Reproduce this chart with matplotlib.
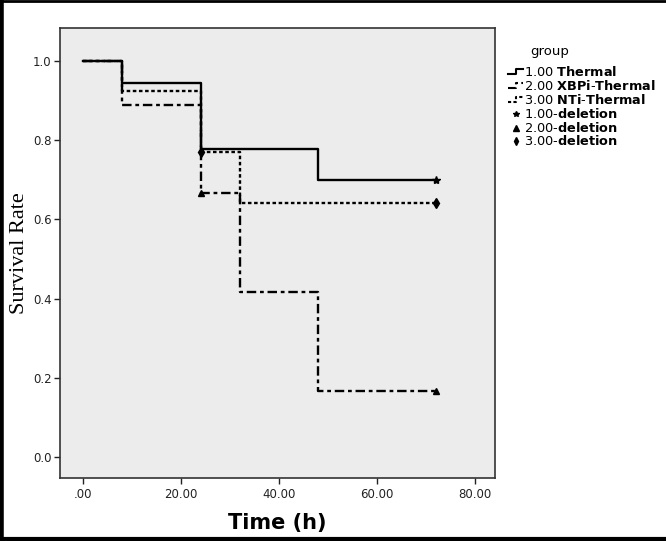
import matplotlib
matplotlib.use("Agg")
import matplotlib.pyplot as plt
from matplotlib.lines import Line2D

# ---- data ----
thermal_t = [0, 8, 24, 48, 72]
thermal_s = [1.0, 0.944, 0.778, 0.70, 0.70]
xbpi_t = [0, 8, 24, 32, 48, 72]
xbpi_s = [1.0, 0.889, 0.667, 0.417, 0.167, 0.167]
nti_t = [0, 8, 24, 32, 72]
nti_s = [1.0, 0.923, 0.769, 0.64, 0.64]

thermal_cens_t = [72]
thermal_cens_s = [0.70]
xbpi_cens_t = [24, 72]
xbpi_cens_s = [0.667, 0.167]
nti_cens_t = [24, 72]
nti_cens_s = [0.769, 0.64]

xticks = [0, 20, 40, 60, 80]
xtick_labels = [".00", "20.00", "40.00", "60.00", "80.00"]
yticks = [0.0, 0.2, 0.4, 0.6, 0.8, 1.0]
ytick_labels = ["0.0", "0.2", "0.4", "0.6", "0.8", "1.0"]

legend_labels = [r"1.00 $\mathbf{Thermal}$",
                 r"2.00 $\mathbf{XBPi}$-$\mathbf{Thermal}$",
                 r"3.00 $\mathbf{NTi}$-$\mathbf{Thermal}$",
                 r"1.00-$\mathbf{deletion}$",
                 r"2.00-$\mathbf{deletion}$",
                 r"3.00-$\mathbf{deletion}$"]

W, H = 666, 541
fig = plt.figure(figsize=(W / 100, H / 100), dpi=100)
fig.patch.set_facecolor("white")

ax = fig.add_axes([60 / W, 1 - 478 / H, (495 - 60) / W, (478 - 28) / H])
ax.set_facecolor("#ececec")

ls_solid = "-"
ls_dashdot = (0, (4, 1.6, 1.6, 1.6))
ls_dot = (0, (1.5, 1.1))
lw = 1.7

ax.step(thermal_t, thermal_s, where="post", color="black", lw=lw, ls=ls_solid)
ax.step(xbpi_t, xbpi_s, where="post", color="black", lw=lw, ls=ls_dashdot)
ax.step(nti_t, nti_s, where="post", color="black", lw=lw, ls=ls_dot)

ax.plot(thermal_cens_t, thermal_cens_s, ls="none", marker="*", color="black", ms=6)
ax.plot(xbpi_cens_t, xbpi_cens_s, ls="none", marker="^", color="black", ms=5)
ax.plot(nti_cens_t, nti_cens_s, ls="none", marker="d", color="black", ms=5)

ax.set_xlim(-4.7, 84.1)
ax.set_ylim(-0.053, 1.083)
ax.set_xticks(xticks)
ax.set_xticklabels(xtick_labels)
ax.set_yticks(yticks)
ax.set_yticklabels(ytick_labels)
ax.tick_params(direction="out", length=4, width=1, colors="#222222", labelsize=8.5)
ax.tick_params(axis="y", pad=2)
for sp in ax.spines.values():
    sp.set_color("#333333")
    sp.set_linewidth(1.2)

ax.set_xlabel("Time (h)", fontsize=15, fontweight="bold", labelpad=8)
ax.set_ylabel("Survival Rate", fontsize=16, family="Liberation Serif")
ax.yaxis.set_label_coords(-0.072, 0.5)

# ---- legend (manual) ----
def fx(px):
    return px / W

def fy(py):
    return 1 - py / H

fig.text(fx(530), fy(52), "group", fontsize=9.5, va="center", ha="left")
ys = [72, 86, 100, 114, 128, 141]
styles = [ls_solid, ls_dashdot, ls_dot]
for i in range(3):
    y = ys[i]
    xs = [fx(508), fx(516), fx(516), fx(523)]
    yy = [fy(y + 2), fy(y + 2), fy(y - 3), fy(y - 3)]
    fig.add_artist(Line2D(xs, yy, color="black", lw=1.5, ls=styles[i]))
markers = ["*", "^", "d"]
for i in range(3):
    y = ys[3 + i]
    fig.add_artist(Line2D([fx(516)], [fy(y)], color="black", marker=markers[i], ms=4, ls="none"))
for y, lab in zip(ys, legend_labels):
    fig.text(fx(524), fy(y), lab, fontsize=9.3, va="center", ha="left")

# figure frame (left, top, bottom)
fig.add_artist(Line2D([0.002, 0.002], [0, 1], color="black", lw=4))
fig.add_artist(Line2D([0, 1], [0.998, 0.998], color="black", lw=2))
fig.add_artist(Line2D([0, 1], [0.003, 0.003], color="black", lw=3))

fig.savefig("out.png", dpi=100, facecolor="white")
